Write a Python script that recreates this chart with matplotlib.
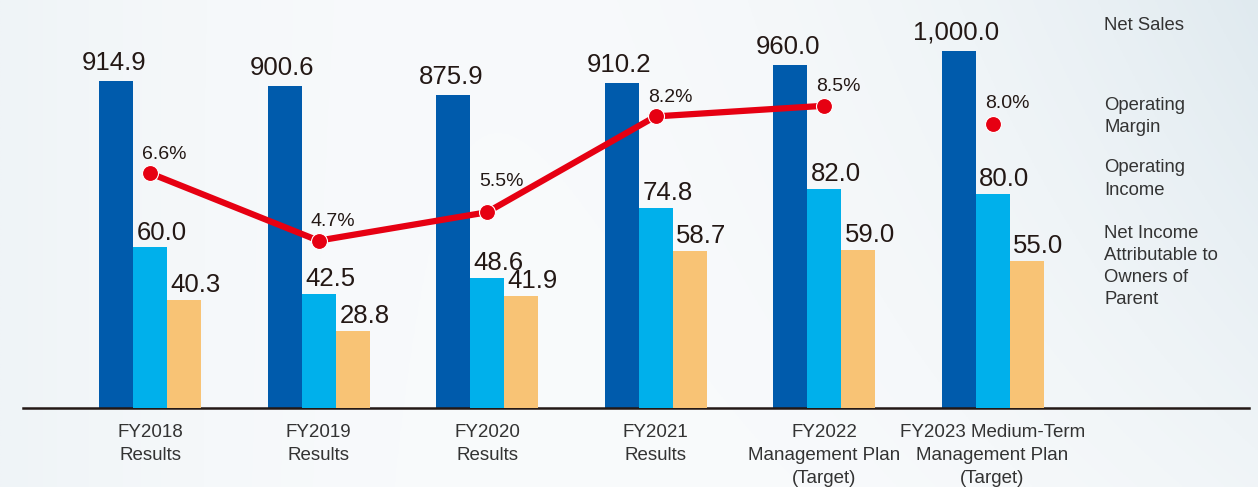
import numpy as np
from matplotlib import pyplot as plt
from matplotlib.colors import to_rgb

plt.rcParams["font.family"] = ["Liberation Sans", "DejaVu Sans"]

# data
categories = [
    "FY2018\nResults",
    "FY2019\nResults",
    "FY2020\nResults",
    "FY2021\nResults",
    "FY2022\nManagement Plan\n(Target)",
    "FY2023 Medium-Term\nManagement Plan\n(Target)",
]
net_sales = [914.9, 900.6, 875.9, 910.2, 960.0, 1000.0]
operating_income = [60.0, 42.5, 48.6, 74.8, 82.0, 80.0]
net_income = [40.3, 28.8, 41.9, 58.7, 59.0, 55.0]
operating_margin = [6.6, 4.7, 5.5, 8.2, 8.5, 8.0]
legend_labels = [
    "Net Sales",
    "Operating\nMargin",
    "Operating\nIncome",
    "Net Income\nAttributable to\nOwners of\nParent",
]

DARK = "#005BAC"
LIGHT = "#00B0EB"
ORANGE = "#F8C375"
RED = "#E60012"
TXT = "#231815"

W, H = 1258, 487
fig = plt.figure(figsize=(W / 100, H / 100), dpi=100)

# soft background gradient
yy, xx = np.mgrid[0:1:200j, 0:1:400j]
t = np.clip(0.25 * (1 - xx) ** 4 * 1.6 + 0.9 * xx ** 3 * (1 - 0.6 * yy), 0, 1)
c0 = np.array(to_rgb("#fbfcfd"))
c1 = np.array(to_rgb("#dde8ee"))
img = c0 + (c1 - c0) * t[..., None]
bg = fig.add_axes([0, 0, 1, 1], zorder=-10)
bg.imshow(img, aspect="auto", extent=[0, 1, 0, 1])
bg.axis("off")

ax = fig.add_axes([23 / W, 79.5 / H, 1226 / W, 407.5 / H])
ax.patch.set_alpha(0)
ax2 = ax.twinx()
ax3 = ax.twinx()

x = np.arange(len(categories))
bw = 0.2018

ax.bar(x - bw, net_sales, bw, color=DARK)
ax2.bar(x, operating_income, bw, color=LIGHT)
ax2.bar(x + bw, net_income, bw, color=ORANGE)

ax.set_ylim(0, 1142)
ax2.set_ylim(0, 152.6)
ax3.set_ylim(0, 11.48)
ax.set_xlim(-0.7537, 6.522)

for xi, v in zip(x, net_sales):
    ax.annotate(f"{v:,.1f}", (xi - bw, v), xytext=(-1.5, 8), textcoords="offset points",
                ha="center", va="baseline", fontsize=18.5, color=TXT)
for xi, v in zip(x, operating_income):
    ax2.annotate(f"{v:.1f}", (xi, v), xytext=(8.5, 5.5), textcoords="offset points",
                 ha="center", va="baseline", fontsize=18.5, color=TXT)
for xi, v in zip(x, net_income):
    ax2.annotate(f"{v:.1f}", (xi + bw, v), xytext=(8.5, 5.5), textcoords="offset points",
                 ha="center", va="baseline", fontsize=18.5, color=TXT)

# operating margin: line for first five, separate dot for the plan
ax3.plot(x[:5], operating_margin[:5], color=RED, lw=4.5, marker="o", ms=11.5,
         mec="white", mew=0.8, solid_capstyle="round")
ax3.plot(x[5:], operating_margin[5:], color=RED, lw=0, marker="o", ms=11.5,
         mec="white", mew=0.8)
dy = [10.5, 10.5, 19, 10.5, 10.5, 11.5]
for xi, v, d in zip(x, operating_margin, dy):
    ax3.annotate(f"{v:.1f}%", (xi, v), xytext=(10.5, d), textcoords="offset points",
                 ha="center", va="baseline", fontsize=14, color=TXT)

for a in (ax, ax2, ax3):
    for s in a.spines.values():
        s.set_visible(False)
    a.set_yticks([])
ax.spines["bottom"].set_visible(True)
ax.spines["bottom"].set_linewidth(1.8)
ax.spines["bottom"].set_color(TXT)
ax.set_xticks(x)
ax.set_xticklabels(categories, fontsize=13.5, color="#333333", linespacing=1.45)
ax.tick_params(axis="x", length=0, pad=12)

# right-hand legend text
legend_y = [25, 116.5, 179, 266.5]
for lab, ly in zip(legend_labels, legend_y):
    fig.text(1104 / W, 1 - ly / H, lab, ha="left", va="center", fontsize=13.3,
             color="#333333", linespacing=1.4)

fig.savefig("out.png", dpi=100)
